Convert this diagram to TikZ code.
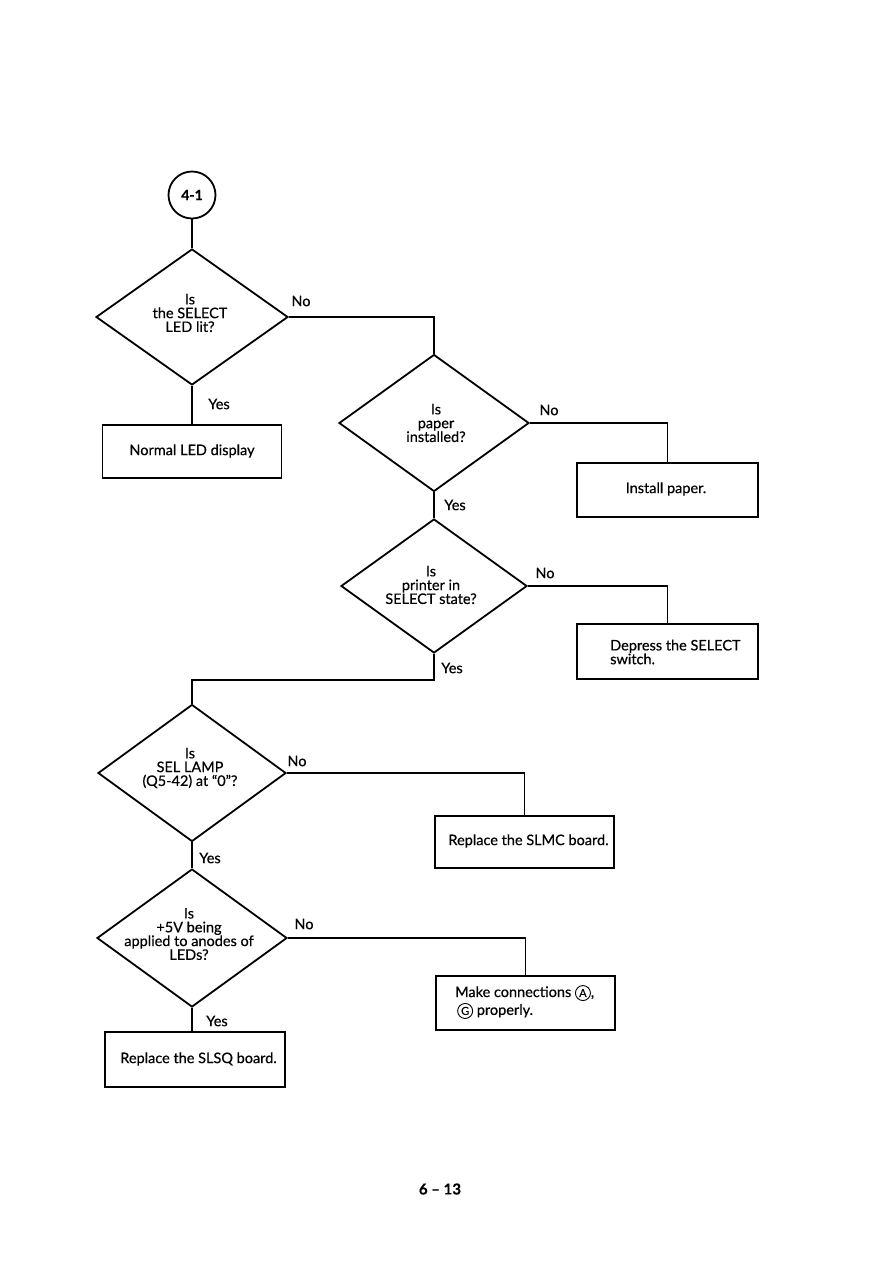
\documentclass[tikz,border=0pt]{standalone}
\usepackage{fontspec}
\setmainfont{Lato}[FakeBold=0.5]
\usetikzlibrary{shapes.geometric}
\newcommand{\circlet}[1]{\tikz[baseline=(cl.base)]\node[draw,circle,line width=0.9pt,inner sep=0.6pt,minimum size=15pt,font=\fontsize{11}{11}\selectfont] (cl) {#1};}
\begin{document}
\begin{tikzpicture}[x=1pt,y=-1pt,
  every node/.style={font=\fontsize{14.5}{13.8}\selectfont},
  line/.style={line width=1.8pt},
  dia/.style={draw,line width=1.8pt,diamond,inner sep=0pt},
  boxnode/.style={draw,line width=1.8pt,rectangle,inner sep=0pt},
  dtext/.style={align=center,inner sep=0pt},
  btext/.style={align=left,inner sep=0pt},
  lab/.style={inner sep=0pt}]
\useasboundingbox[fill=white] (0,0) rectangle (891,1262);

% start connector
\node[draw,circle,line width=1.8pt,minimum size=47pt,inner sep=0pt,font=\fontsize{14}{14}\selectfont\bfseries] (c) at (192,195) {4-1};

% decisions
\node[dia,minimum width=192pt,minimum height=136pt] (d1) at (192,317) {};
\node[dtext] (t1) at (190,313) {Is\\the SELECT\\LED lit?};
\node[dia,minimum width=190pt,minimum height=137pt] (d2) at (434,423) {};
\node[dtext] (t2) at (436,423) {Is\\paper\\installed?};
\node[dia,minimum width=186pt,minimum height=134pt] (d3) at (434,586) {};
\node[dtext] (t3) at (431,585) {Is\\printer in\\SELECT state?};
\node[dia,minimum width=188pt,minimum height=137pt] (d4) at (192,773) {};
\node[dtext] (t4) at (190,768) {Is\\SEL LAMP\\(Q5-42) at ``0''?};
\node[dia,minimum width=190pt,minimum height=138pt] (d5) at (192,938) {};
\node[dtext] (t5) at (189,934) {Is\\+5V being\\applied to anodes of\\LEDs?};

% boxes
\node[boxnode,minimum width=179pt,minimum height=53pt] (b1) at (192,451.5) {};
\node[btext] (u1) at (192,451) {Normal LED display};
\node[boxnode,minimum width=181pt,minimum height=54pt] (b2) at (667.5,490) {};
\node[btext] (u2) at (666,489) {Install paper.};
\node[boxnode,minimum width=181pt,minimum height=55pt] (b3) at (667.5,651.5) {};
\node[btext,anchor=west] (u3) at (610,652) {Depress the SELECT\\switch.};
\node[boxnode,minimum width=179pt,minimum height=52pt] (b4) at (524.5,842) {};
\node[btext] (u4) at (528.5,841) {Replace the SLMC board.};
\node[boxnode,minimum width=179pt,minimum height=54pt] (b5) at (525.5,1003) {};
\node[btext,anchor=west] (u5) at (455,1002) {Make connections\ \circlet{A},\\[1pt]\hspace*{2pt}\circlet{G}\ properly.};
\node[boxnode,minimum width=180pt,minimum height=55pt] (b6) at (195,1059.5) {};
\node[btext] (u6) at (198.5,1059) {Replace the SLSQ board.};

% connector junction
\coordinate (j) at (434,680);

% connectors
\draw[line] (c.south) -- (d1.north);
\draw[line] (d1.east) -| (d2.north);
\draw[line] (d1.south) -- (d1.south |- b1.north);
\draw[line] (d2.east) -| (b2.north);
\draw[line] (d2.south) -- (d3.north);
\draw[line] (d3.east) -| (b3.north);
\draw[line] (d3.south) -- (j) -| (d4.north);
\draw[line] (d4.east) -| (b4.north);
\draw[line] (d4.south) -- (d5.north);
\draw[line] (d5.east) -| (b5.north);
\draw[line] (d5.south) -- (d5.south |- b6.north);

% branch labels
\node[lab] (n1) at (301,301) {No};
\node[lab] (y1) at (219,404) {Yes};
\node[lab] (n2) at (549,410) {No};
\node[lab] (y2) at (455,505) {Yes};
\node[lab] (n3) at (545,573) {No};
\node[lab] (y3) at (452,668) {Yes};
\node[lab] (n4) at (297,761) {No};
\node[lab] (y4) at (210,858) {Yes};
\node[lab] (n5) at (304,924) {No};
\node[lab] (y5) at (217,1021) {Yes};

% page number
\node[lab,font=\fontsize{15}{15}\selectfont\bfseries] (pg) at (440,1189) {6 -- 13};
\end{tikzpicture}
\end{document}
